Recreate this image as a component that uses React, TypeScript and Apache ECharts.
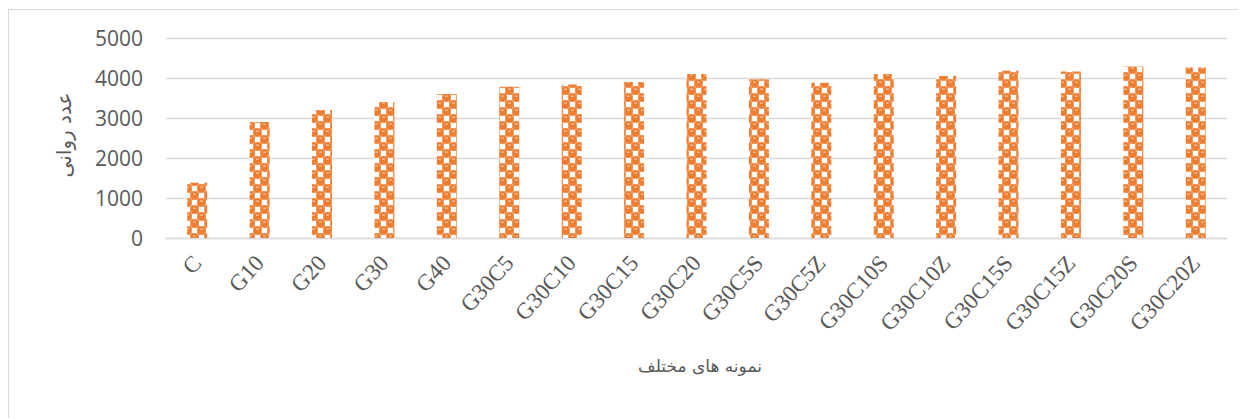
import React, { useEffect, useRef } from "react";
import * as echarts from "echarts";

const categories = [
  "C", "G10", "G20", "G30", "G40", "G30C5", "G30C10", "G30C15", "G30C20",
  "G30C5S", "G30C5Z", "G30C10S", "G30C10Z", "G30C15S", "G30C15Z", "G30C20S", "G30C20Z",
];
const values = [
  1380, 2900, 3200, 3400, 3600, 3780, 3840, 3900, 4100,
  3970, 3880, 4100, 4050, 4180, 4160, 4290, 4260,
];
const yTitle = "عدد روانی";
const xTitle = "نمونه های مختلف";

// Sphere-like orange tile used to fill the bars
function makeSpherePattern(): HTMLCanvasElement {
  const s = 14;
  const h = s / 2;
  const c = document.createElement("canvas");
  c.width = s;
  c.height = s;
  const ctx = c.getContext("2d")!;
  ctx.fillStyle = "#F2995E";
  ctx.fillRect(0, 0, s, s);
  // white cells
  ctx.fillStyle = "#FFFFFF";
  ctx.fillRect(h + 1, 1, h - 2, h - 2);
  ctx.fillRect(1, h + 1, h - 2, h - 2);
  const balls = [
    [h / 2, h / 2],
    [h + h / 2, h + h / 2],
  ];
  for (const [bx, by] of balls) {
    ctx.beginPath();
    ctx.arc(bx, by, 3.8, 0, Math.PI * 2);
    ctx.fillStyle = "#ED7D31";
    ctx.fill();
    ctx.fillStyle = "#FAD9C0";
    ctx.fillRect(bx - 1.4, by - 1.9, 2.8, 1);
  }
  return c;
}

export default function App() {
  const ref = useRef<HTMLDivElement>(null);

  useEffect(() => {
    if (!ref.current) return;
    const chart = echarts.init(ref.current, undefined, { renderer: "svg" });
    const pattern = makeSpherePattern();
    chart.setOption({
      animation: false,
      backgroundColor: "#FFFFFF",
      grid: { left: 157, top: 28, width: 1061, height: 200, containLabel: false },
      xAxis: {
        type: "category",
        data: categories,
        axisLine: { show: true, lineStyle: { color: "#D9D9D9", width: 1.3 } },
        axisTick: { show: false },
        axisLabel: {
          rotate: 48,
          margin: 21,
          interval: 0,
          color: "#595959",
          fontFamily: "Liberation Serif",
          fontSize: 23,
        },
      },
      yAxis: {
        type: "value",
        min: 0,
        max: 5000,
        interval: 1000,
        axisLine: { show: false },
        axisTick: { show: false },
        splitLine: { lineStyle: { color: "#D9D9D9", width: 1.3 } },
        axisLabel: {
          margin: 23,
          color: "#595959",
          fontFamily: "Open Sans",
          fontSize: 21,
          formatter: (v: number) => String(v),
        },
      },
      series: [
        {
          type: "bar",
          data: values,
          barWidth: 20,
          itemStyle: {
            color: { image: pattern, repeat: "repeat" },
          },
        },
      ],
      graphic: [
        {
          type: "text",
          x: 55,
          y: 125,
          rotation: Math.PI / 2,
          style: {
            text: yTitle,
            fill: "#595959",
            font: '20px "DejaVu Sans"',
            align: "center",
            verticalAlign: "middle",
          },
        },
        {
          type: "text",
          x: 691,
          y: 356,
          style: {
            text: xTitle,
            fill: "#595959",
            font: '17px "DejaVu Sans"',
            align: "center",
            verticalAlign: "middle",
          },
        },
      ],
    });
    return () => chart.dispose();
  }, []);

  return (
    <div
      style={{
        position: "relative",
        top: 1,
        width: 1238,
        height: 410,
        boxSizing: "border-box",
        borderTop: "1px solid #D9D9D9",
        borderLeft: "1px solid #D9D9D9",
      }}
    >
      <div ref={ref} style={{ width: 1237, height: 409 }} />
    </div>
  );
}
